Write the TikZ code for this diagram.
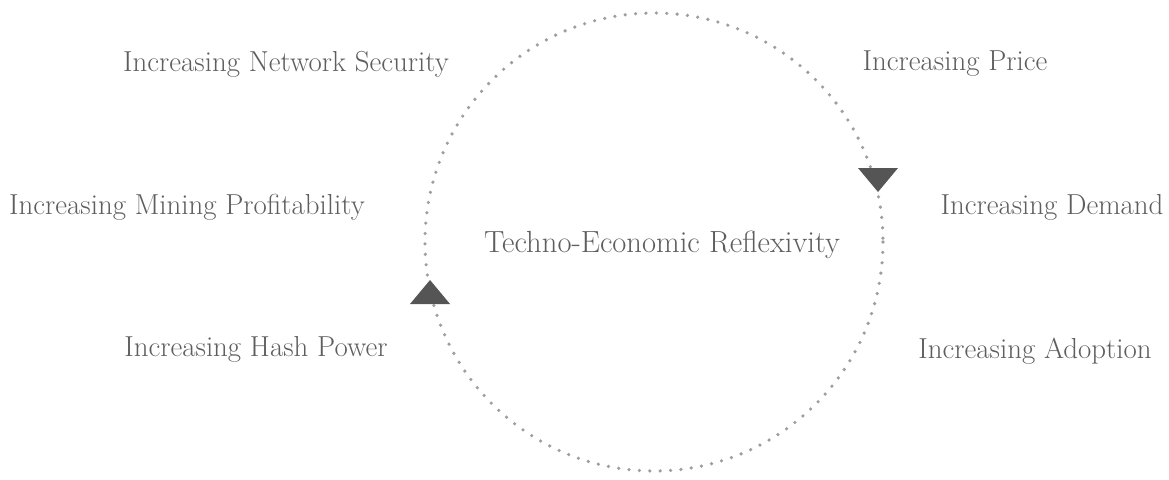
\documentclass[tikz,border=0pt]{standalone}
\usepackage{xcolor}
\definecolor{txtgray}{HTML}{5E5E5E}
\definecolor{dotgray}{HTML}{9E9E9E}
\definecolor{arrgray}{HTML}{555555}
\begin{document}
\begin{tikzpicture}[x=1pt,y=-1pt,
  lbl/.style={text=txtgray,font=\fontsize{28.9}{34}\selectfont,inner sep=0pt,anchor=center},
  title/.style={lbl,font=\fontsize{30.6}{36}\selectfont},
  ring/.style={dotgray,line width=3.6pt,line cap=round,dash pattern=on 0pt off 10.4pt},
  tri/.style={fill=arrgray,draw=none}]
\useasboundingbox (0,0) rectangle (1169,479);
\coordinate (c) at (654,242);
\draw[ring] (c) circle[radius=229];
\fill[tri] (858,168) -- (898,168) -- (878,192) -- cycle;
\fill[tri] (410,304) -- (450,304) -- (430,280) -- cycle;
\node[title] (center) at (662,245) {Techno-Economic Reflexivity};
\node[lbl] (sec) at (286,64) {Increasing Network Security};
\node[lbl] (price) at (955,64) {Increasing Price};
\node[lbl] (mining) at (187,207) {Increasing Mining Profitability};
\node[lbl] (demand) at (1052,207) {Increasing Demand};
\node[lbl] (hash) at (256,349) {Increasing Hash Power};
\node[lbl] (adopt) at (1035,351) {Increasing Adoption};
\end{tikzpicture}
\end{document}
